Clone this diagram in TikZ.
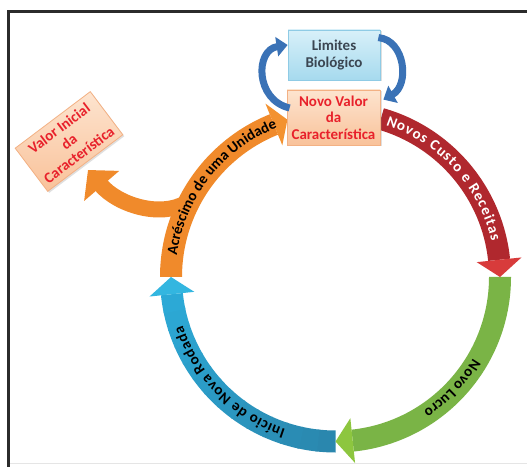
\documentclass[tikz,border=0pt]{standalone}
\usepackage{fontspec}
\setmainfont{Carlito}
\usetikzlibrary{arrows.meta,decorations.text,shadows}
\definecolor{frameC}{HTML}{2B2B2B}
\definecolor{redB}{HTML}{B0282E}
\definecolor{redH}{HTML}{D83B3B}
\definecolor{greenB}{HTML}{7AB446}
\definecolor{greenH}{HTML}{8DC63F}
\definecolor{blueD}{HTML}{2A87AE}
\definecolor{blueL}{HTML}{2CA9D6}
\definecolor{blueH}{HTML}{33B6E0}
\definecolor{orangeB}{HTML}{F08A2B}
\definecolor{orangeH}{HTML}{F39230}
\definecolor{loopC}{HTML}{3A72B6}
\definecolor{peachT}{HTML}{FDE4CF}
\definecolor{peachB}{HTML}{F9C29A}
\definecolor{peachD}{HTML}{F3B184}
\definecolor{skyT}{HTML}{D8F0F9}
\definecolor{skyB}{HTML}{A6DAEE}
\definecolor{skyD}{HTML}{8FCBE5}
\definecolor{redTxt}{HTML}{E8212B}
\definecolor{grayTxt}{HTML}{3B4652}
\newcommand{\bandtxt}{\fontsize{15bp}{15bp}\selectfont\bfseries}
\newcommand{\ringseg}[5]{%
  \fill[#1] (#3:175.5bp) arc[start angle=#3,end angle=#4,radius=175.5bp]
     -- (#4:153.5bp) arc[start angle=#4,end angle=#3,radius=153.5bp] -- cycle;
  \fill[#2] (#4:187bp) -- (#5:164.5bp) -- (#4:142bp) -- cycle;}
\tikzset{
  peachbox/.style={draw=peachD, line width=0.8bp, top color=peachT, bottom color=peachB,
     minimum width=93bp, minimum height=55bp, inner sep=1bp, align=center,
     font=\fontsize{15bp}{16.5bp}\selectfont\bfseries, text=redTxt,
     drop shadow={opacity=0.25, shadow xshift=1.5bp, shadow yshift=-1.5bp}},
  skybox/.style={draw=skyD, line width=0.8bp, top color=skyT, bottom color=skyB,
     minimum width=92bp, minimum height=50bp, inner sep=1bp, align=center,
     font=\fontsize{15bp}{16.5bp}\selectfont\bfseries, text=grayTxt,
     drop shadow={opacity=0.25, shadow xshift=1.5bp, shadow yshift=-1.5bp}},
  looparrow/.style={loopC, line width=7bp, -{Triangle[width=19bp,length=11bp]}},
  brancharrow/.style={orangeB, line width=16bp, -{Triangle[width=45bp,length=21bp]}},
}
\begin{document}
\begin{tikzpicture}[x=1bp,y=1bp]
\useasboundingbox (0,0) rectangle (527,467);
\fill[white] (0,0) rectangle (527,467);
\draw[frameC, line width=3bp] (8.5,0) -- (8.5,455.5) -- (527,455.5);
\draw[gray!20, line width=1bp] (10,3) -- (527,3);

\coordinate (C) at (335.5,190);

% orange branch toward the initial value
\coordinate (brA) at (186,264);
\coordinate (brB) at (88,297);
\draw[brancharrow] (brA) .. controls (160,249) and (118,262) .. (brB);

\begin{scope}[shift={(C)}]
  % orange segment
  \ringseg{orangeB}{orangeH}{180}{112}{107}
  % blue segment with gradient
  \foreach \i in {0,...,13} {
    \pgfmathsetmacro\aa{270-6*\i}
    \pgfmathsetmacro\ab{max(186,270-6*\i-6.6)}
    \pgfmathsetmacro\pp{100*\i/13}
    \fill[blueL!\pp!blueD] (\aa:175.5bp) arc[start angle=\aa,end angle=\ab,radius=175.5bp]
      -- (\ab:153.5bp) arc[start angle=\ab,end angle=\aa,radius=153.5bp] -- cycle;
  }
  \fill[blueH] (186:187bp) -- (180:164.5bp) -- (186:142bp) -- cycle;
  % green segment
  \ringseg{greenB}{greenH}{360}{276}{270}
  % red segment
  \ringseg{redB}{redH}{74}{6}{0}

  % texts along the ring
  \path[decorate,decoration={text along path, text align=fit to path,
     text={|\bandtxt\color{white}|Novos Custo e Receitas}}]
     (71.7:160bp) arc[start angle=71.7,end angle=13,radius=160bp];
  \path[decorate,decoration={text along path, text align=fit to path,
     text={|\bandtxt\color{black}|Novo Lucro}}]
     (-30.8:160bp) arc[start angle=-30.8,end angle=-56.7,radius=160bp];
  \path[decorate,decoration={text along path, text align=fit to path,
     text={|\bandtxt\color{black}|Início de Nova Rodada}}]
     (251.8:160bp) arc[start angle=251.8,end angle=197.5,radius=160bp];
  \path[decorate,decoration={text along path, text align=fit to path,
     text={|\bandtxt\color{black}|Acréscimo de uma Unidade}}]
     (172.4:160bp) arc[start angle=172.4,end angle=112,radius=160bp];
\end{scope}

% boxes
\node[skybox] (lim) at (334,412) {Limites\\Biológico};
\node[peachbox] (novo) at (333.5,349.5) {Novo Valor\\da\\Característica};
\node[peachbox, minimum width=94bp, minimum height=54bp, rotate=37] (valor) at (69,325.5)
   {Valor Inicial\\da\\Característica};

% loop arrows between the two top boxes
\coordinate (lA) at ([xshift=3bp,yshift=9.5bp]novo.west);
\coordinate (lB) at ([yshift=10bp]lim.west);
\draw[looparrow] (lA) .. controls (255,367) and (255,417) .. (lB);
\coordinate (rA) at ([xshift=-2bp,yshift=-8bp]lim.north east);
\coordinate (rB) at ([xshift=3bp,yshift=-10bp]novo.north east);
\draw[looparrow] (rA) .. controls (405,427) and (410,382) .. (rB);
\end{tikzpicture}
\end{document}
